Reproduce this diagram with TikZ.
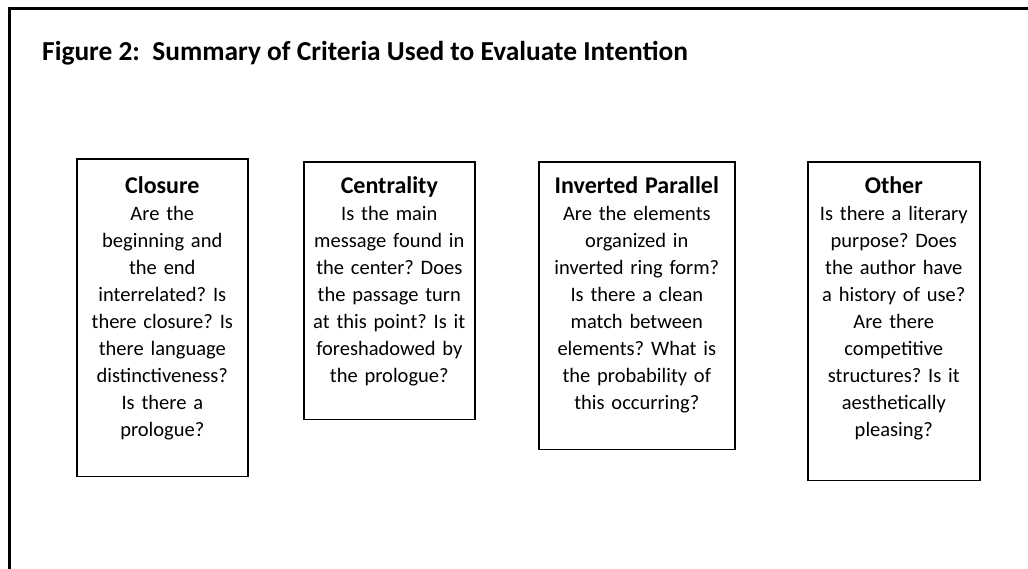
\documentclass[tikz,border=0pt]{standalone}
\usepackage{fontspec}
\setmainfont{Carlito}
\usepackage{tikz}
\usetikzlibrary{calc}
\frenchspacing

\newcommand{\crithead}[1]{{\fontsize{24}{26.8}\selectfont\bfseries #1}}
\tikzset{crit/.style={draw, line width=1.6pt, align=center, anchor=north west, inner xsep=3pt, inner ysep=0pt, text height=31pt, font=\fontsize{20.5}{27}\selectfont}}

\begin{document}
\begin{tikzpicture}[x=1pt, y=-1pt]
			\def\fl{9};
			\useasboundingbox (0,0) rectangle (1028,569);
			\draw[line width=3pt] (\fl,569) -- (\fl,\fl) -- (1028,\fl);
			\node[anchor=west, inner sep=0pt, font=\fontsize{27.4}{30}\selectfont\bfseries] (title) at (42,53) {Figure 2:\ \ Summary of Criteria Used to Evaluate Intention};
			\node[crit, text width=165pt, text height=34.5pt, text depth=283pt] (closure) at (76,158) {\crithead{Closure}\\Are the\\beginning and\\the end\\interrelated? Is\\there closure? Is\\there language\\distinctiveness?\\Is there a\\prologue?};
			\node[crit, text width=165pt, text depth=226pt] (centrality) at (303,161.5) {\crithead{Centrality}\\Is the main\\message found in\\the center? Does\\the passage turn\\at this point? Is it\\foreshadowed by\\the prologue?};
			\node[crit, text width=190pt, text depth=256pt] (parallel) at (538,161.5) {\crithead{Inverted Parallel}\\Are the elements\\organized in\\inverted ring form?\\Is there a clean\\match between\\elements? What is\\the probability of\\this occurring?};
			\node[crit, text width=166pt, text depth=287pt] (other) at (807,161.5) {\crithead{Other}\\Is there a literary\\purpose? Does\\the author have\\a history of use?\\Are there\\competitive\\structures? Is it\\aesthetically\\pleasing?};
			\end{tikzpicture}
\end{document}
